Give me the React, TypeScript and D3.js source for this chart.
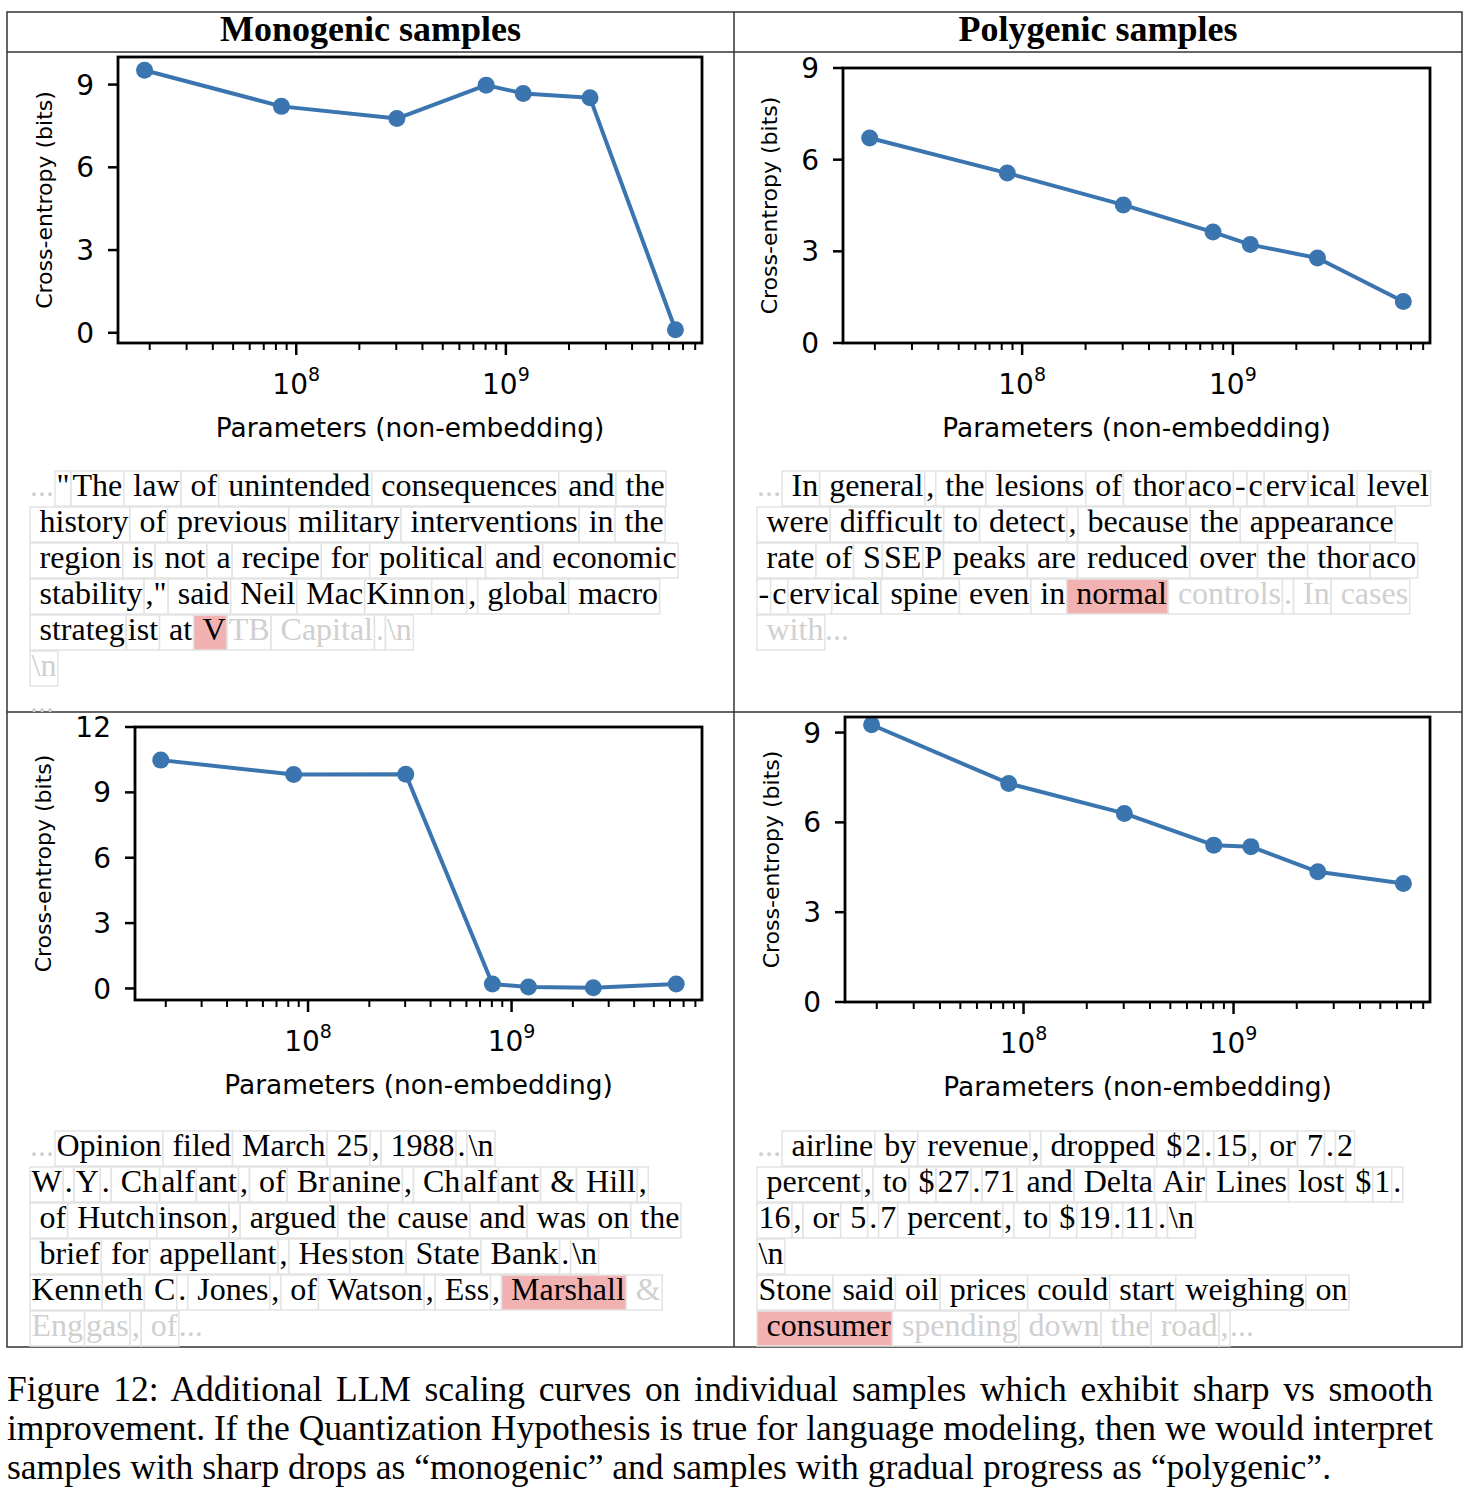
import React, { useEffect, useRef } from "react";
import * as d3 from "d3";

// ---------- data ----------
const params = [18.9e6, 85.0e6, 302e6, 805e6, 1.21e9, 2.52e9, 6.44e9];
const monoA = [9.52, 8.21, 7.77, 8.98, 8.68, 8.52, 0.11];
const polyA = [6.71, 5.56, 4.52, 3.63, 3.22, 2.78, 1.36];
const monoB = [10.48, 9.82, 9.83, 0.2, 0.07, 0.03, 0.2];
const polyB = [9.26, 7.3, 6.3, 5.24, 5.19, 4.35, 3.96];

const yTicksA = [0, 3, 6, 9];
const yTicksB = [0, 3, 6, 9];
const yTicksC = [0, 3, 6, 9, 12];
const yTicksD = [0, 3, 6, 9];
const xMajorExps = [8, 9];

const columnTitles = ["Monogenic samples", "Polygenic samples"];
const xLabel = "Parameters (non-embedding)";
const yLabel = "Cross-entropy (bits)";

const tokensA = [
  ["...", '"', "The", " law", " of", " unintended", " consequences", " and", " the"],
  [" history", " of", " previous", " military", " interventions", " in", " the"],
  [" region", " is", " not", " a", " recipe", " for", " political", " and", " economic"],
  [" stability", ',"', " said", " Neil", " Mac", "Kinn", "on", ",", " global", " macro"],
  [" strateg", "ist", " at", " V", "TB", " Capital", ".", "\\n"],
  ["\\n"],
  ["..."],
];
const highlightA = [4, 3];

const tokensB = [
  ["...", " In", " general", ",", " the", " lesions", " of", " thor", "aco", "-", "c", "erv", "ical", " level"],
  [" were", " difficult", " to", " detect", ",", " because", " the", " appearance"],
  [" rate", " of", " S", "SE", "P", " peaks", " are", " reduced", " over", " the", " thor", "aco"],
  ["-", "c", "erv", "ical", " spine", " even", " in", " normal", " controls", ".", " In", " cases"],
  [" with", "..."],
];
const highlightB = [3, 7];

const tokensC = [
  ["...", "Opinion", " filed", " March", " 25", ",", " 1988", ".", "\\n"],
  ["W", ".", "Y", ".", " Ch", "alf", "ant", ",", " of", " Br", "anine", ",", " Ch", "alf", "ant", " &", " Hill", ","],
  [" of", " Hutch", "inson", ",", " argued", " the", " cause", " and", " was", " on", " the"],
  [" brief", " for", " appellant", ",", " Hes", "ston", " State", " Bank", ".", "\\n"],
  ["Kenn", "eth", " C", ".", " Jones", ",", " of", " Watson", ",", " Ess", ",", " Marshall", " &"],
  ["Eng", "gas", ",", " of", "..."],
];
const highlightC = [4, 11];

const tokensD = [
  ["...", " airline", " by", " revenue", ",", " dropped", " $", "2", ".", "15", ",", " or", " 7", ".", "2"],
  [" percent", ",", " to", " $", "27", ".", "71", " and", " Delta", " Air", " Lines", " lost", " $", "1", "."],
  ["16", ",", " or", " 5", ".", "7", " percent", ",", " to", " $", "19", ".", "11", ".", "\\n"],
  ["\\n"],
  ["Stone", " said", " oil", " prices", " could", " start", " weighing", " on"],
  [" consumer", " spending", " down", " the", " road", ",", "..."],
];
const highlightD = [5, 0];

const captionLines = [
  "Figure 12: Additional LLM scaling curves on individual samples which exhibit sharp vs smooth",
  "improvement. If the Quantization Hypothesis is true for language modeling, then we would interpret",
  "samples with sharp drops as \u201cmonogenic\u201d and samples with gradual progress as \u201cpolygenic\u201d.",
];

// ---------- layout / style ----------
const W = 1474;
const H = 1498;
const SERIF = "'Liberation Serif', 'Times New Roman', Times, serif";
const SANS = "'DejaVu Sans', Verdana, sans-serif";
const BLUE = "#3b75af";
const TABLE = { x0: 7, x1: 1462, y0: 12, y1: 1347, head: 52, mid: 712, col: 734 };

const charts = [
  { vals: monoA, ticks: yTicksA, yDomain: [-0.37, 10], x0: 118, x1: 702, y0: 57, y1: 343 },
  { vals: polyA, ticks: yTicksB, yDomain: [0, 9], x0: 843, x1: 1430, y0: 68, y1: 343 },
  { vals: monoB, ticks: yTicksC, yDomain: [-0.53, 12], x0: 135, x1: 702, y0: 727, y1: 1000 },
  { vals: polyB, ticks: yTicksD, yDomain: [0, 9.52], x0: 845, x1: 1430, y0: 717, y1: 1002 },
];

const texts = [
  { lines: tokensA, hi: highlightA, x: 30, top: 471 },
  { lines: tokensB, hi: highlightB, x: 757, top: 471 },
  { lines: tokensC, hi: highlightC, x: 30, top: 1131 },
  { lines: tokensD, hi: highlightD, x: 757, top: 1131 },
];

const TOK_FONT = 32;
const TOK_PAD = 3;
const LINE_H = 36;

export default function App() {
  const ref = useRef<SVGSVGElement>(null);

  useEffect(() => {
    const svg = d3.select(ref.current);
    svg.selectAll("*").remove();
    svg.append("rect").attr("width", W).attr("height", H).attr("fill", "#fff");

    // ----- table -----
    const tg = svg.append("g").attr("stroke", "#333").attr("stroke-width", 1.5).attr("fill", "none");
    tg.append("rect").attr("x", TABLE.x0).attr("y", TABLE.y0).attr("width", TABLE.x1 - TABLE.x0).attr("height", TABLE.y1 - TABLE.y0);
    tg.append("line").attr("x1", TABLE.x0).attr("x2", TABLE.x1).attr("y1", TABLE.head).attr("y2", TABLE.head);
    tg.append("line").attr("x1", TABLE.x0).attr("x2", TABLE.x1).attr("y1", TABLE.mid).attr("y2", TABLE.mid);
    tg.append("line").attr("x1", TABLE.col).attr("x2", TABLE.col).attr("y1", TABLE.y0).attr("y2", TABLE.y1);

    columnTitles.forEach((t, i) => {
      const cx = i === 0 ? (TABLE.x0 + TABLE.col) / 2 : (TABLE.col + TABLE.x1) / 2;
      svg.append("text").attr("x", cx).attr("y", 41).attr("text-anchor", "middle")
        .attr("font-family", SERIF).attr("font-weight", "bold").attr("font-size", 36).text(t);
    });

    // ----- charts -----
    const lx = Math.log10(d3.min(params)!);
    const hx = Math.log10(d3.max(params)!);
    const mx = 0.05 * (hx - lx);
    const xDomain = [Math.pow(10, lx - mx), Math.pow(10, hx + mx)];

    charts.forEach((c) => {
      const g = svg.append("g");
      const x = d3.scaleLog().domain(xDomain).range([c.x0, c.x1]);
      const y = d3.scaleLinear().domain(c.yDomain).range([c.y1, c.y0]);

      // y ticks
      let maxW = 0;
      c.ticks.forEach((v) => {
        g.append("line").attr("x1", c.x0 - 10).attr("x2", c.x0).attr("y1", y(v)).attr("y2", y(v))
          .attr("stroke", "#000").attr("stroke-width", 2.5);
        const t = g.append("text").attr("x", c.x0 - 24).attr("y", y(v)).attr("dy", "0.36em")
          .attr("text-anchor", "end").attr("font-family", SANS).attr("font-size", 28).text(String(v));
        maxW = Math.max(maxW, (t.node() as SVGTextElement).getComputedTextLength());
      });

      // x ticks
      const allTicks = x.ticks();
      allTicks.forEach((v) => {
        const e = Math.log10(v);
        const major = Math.abs(e - Math.round(e)) < 1e-9;
        g.append("line").attr("x1", x(v)).attr("x2", x(v)).attr("y1", c.y1).attr("y2", c.y1 + (major ? 12 : 7))
          .attr("stroke", "#000").attr("stroke-width", major ? 2.5 : 2);
      });
      xMajorExps.forEach((e) => {
        const t = g.append("text").attr("x", x(Math.pow(10, e))).attr("y", c.y1 + 51)
          .attr("text-anchor", "middle").attr("font-family", SANS).attr("font-size", 28);
        t.append("tspan").text("10");
        t.append("tspan").attr("dy", -13).attr("font-size", 19).text(String(e));
      });

      // labels
      g.append("text").attr("x", (c.x0 + c.x1) / 2).attr("y", c.y1 + 94).attr("text-anchor", "middle")
        .attr("font-family", SANS).attr("font-size", 26.4).text(xLabel);
      const ylx = c.x0 - 56 - maxW;
      const yly = (c.y0 + c.y1) / 2;
      g.append("text").attr("transform", `translate(${ylx},${yly}) rotate(-90)`).attr("dy", "0.36em")
        .attr("text-anchor", "middle").attr("font-family", SANS).attr("font-size", 22).text(yLabel);

      // data
      const pts = params.map((p, i) => [x(p), y(c.vals[i])] as [number, number]);
      g.append("path").attr("d", d3.line()(pts)!).attr("fill", "none").attr("stroke", BLUE)
        .attr("stroke-width", 4).attr("stroke-linejoin", "round");
      g.selectAll("circle.pt").data(pts).enter().append("circle").attr("class", "pt")
        .attr("cx", (d) => d[0]).attr("cy", (d) => d[1]).attr("r", 8.5).attr("fill", BLUE);

      // spine
      g.append("rect").attr("x", c.x0).attr("y", c.y0).attr("width", c.x1 - c.x0).attr("height", c.y1 - c.y0)
        .attr("fill", "none").attr("stroke", "#000").attr("stroke-width", 2.8);
    });

    // ----- token texts -----
    texts.forEach((p) => {
      const g = svg.append("g");
      let faded = false;
      p.lines.forEach((line, li) => {
        let xx = p.x;
        const top = p.top + li * LINE_H;
        line.forEach((tok, ti) => {
          if (tok === "...") {
            const t = g.append("text").attr("x", xx).attr("y", top + 25).attr("font-family", SERIF)
              .attr("font-size", TOK_FONT).attr("fill", "#cfcfcf").text("...");
            xx += (t.node() as SVGTextElement).getComputedTextLength() + 1;
            return;
          }
          const isHi = li === p.hi[0] && ti === p.hi[1];
          const rect = g.append("rect");
          const t = g.append("text").attr("x", xx + TOK_PAD / 2).attr("y", top + 25)
            .attr("font-family", SERIF).attr("font-size", TOK_FONT)
            .attr("xml:space", "preserve").style("white-space", "pre")
            .attr("fill", faded ? "#d0d0d0" : "#000").text(tok);
          const w = (t.node() as SVGTextElement).getComputedTextLength() + TOK_PAD;
          rect.attr("x", xx).attr("y", top).attr("width", w).attr("height", LINE_H - 1)
            .attr("fill", isHi ? "#f2b2b2" : "#fff").attr("stroke", "#e3e3e3").attr("stroke-width", 1.5);
          xx += w;
          if (isHi) faded = true;
        });
      });
    });

    // ----- caption -----
    captionLines.forEach((line, i) => {
      const t = svg.append("text").attr("x", 7).attr("y", 1401 + i * 39)
        .attr("font-family", SERIF).attr("font-size", 35.5).text(line);
      if (i < captionLines.length - 1) {
        const natural = (t.node() as SVGTextElement).getComputedTextLength();
        const spaces = (line.match(/ /g) || []).length;
        const target = 1433 - 7;
        t.style("word-spacing", `${(target - natural) / spaces}px`);
      }
    });
  }, []);

  return (
    <svg ref={ref} width={W} height={H}
      style={{ position: "absolute", left: 0, top: 0, display: "block" }} />
  );
}
